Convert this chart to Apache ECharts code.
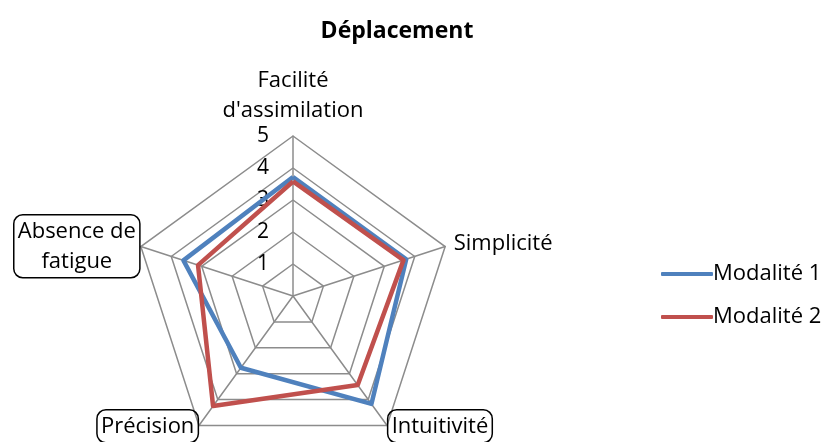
<!DOCTYPE html>
<html>
<head>
<meta charset="utf-8">
<script src="https://cdn.jsdelivr.net/npm/echarts@6/dist/echarts.min.js"></script>
<style>html,body{margin:0;padding:0;background:#fff}#c{width:829px;height:442px}</style>
</head>
<body>
<div id="c"></div>
<script>
const title = 'Déplacement';
const indicators = ["Facilité\nd'assimilation", 'Absence de\nfatigue', 'Précision', 'Intuitivité', 'Simplicité'];
const boxed = [false, true, true, true, false];
const maxValue = 5;
const seriesNames = ['Modalité 1', 'Modalité 2'];
const modalite1 = [3.72, 3.6, 2.77, 4.17, 3.72];
const modalite2 = [3.58, 3.12, 4.25, 3.44, 3.63];
const colors = ['#4F81BD', '#C0504D'];

const font = '"Open Sans", sans-serif';
const chart = echarts.init(document.getElementById('c'));
chart.setOption({
  animation: false,
  title: {
    text: title, left: 392, top: 15, textAlign: 'center',
    textStyle: { fontFamily: font, fontWeight: 'bold', fontSize: 23, color: '#000' }
  },
  legend: {
    orient: 'vertical', left: 656, top: 258, itemWidth: 52, itemHeight: 4, itemGap: 21,
    icon: 'roundRect',
    data: seriesNames,
    textStyle: { fontFamily: font, fontSize: 22, color: '#000', padding: [0, 0, 0, -5] }
  },
  radar: {
    center: [293, 296], radius: 160, splitNumber: 5, shape: 'polygon',
    startAngle: 90,
    nameGap: 9,
    axisName: {
      fontFamily: font, fontSize: 22, color: '#000', lineHeight: 30,
      formatter: (n) => n.split('\n').map(s => '{c|' + s + '}').join('\n'),
      rich: { c: { align: 'center', fontFamily: font, fontSize: 22, color: '#000', lineHeight: 30 } }
    },
    splitLine: { lineStyle: { color: '#8c8c8c', width: 1.5 } },
    splitArea: { show: false },
    axisLine: { lineStyle: { color: '#8c8c8c', width: 1.5 } },
    axisLabel: { show: false },
    indicator: indicators.map((n, i) => {
      const o = { name: n, max: maxValue, min: 0 };
      if (i === 0) {
        o.axisLabel = { show: true, fontFamily: font, fontSize: 21, color: '#000', margin: 24, showMinLabel: false };
      }
      if (boxed[i]) {
        o.nameTextStyle = { borderColor: '#000', borderWidth: 1.5, borderRadius: 9, padding: [2, 4, 1, 4] };
        o.nameGap = 1;
      }
      return o;
    })
  },
  series: [{
    type: 'radar',
    symbol: 'none',
    data: [
      { name: seriesNames[0], value: modalite1, lineStyle: { color: colors[0], width: 4.5 }, itemStyle: { color: colors[0] } },
      { name: seriesNames[1], value: modalite2, lineStyle: { color: colors[1], width: 4.5 }, itemStyle: { color: colors[1] } }
    ]
  }]
});
</script>
</body>
</html>
